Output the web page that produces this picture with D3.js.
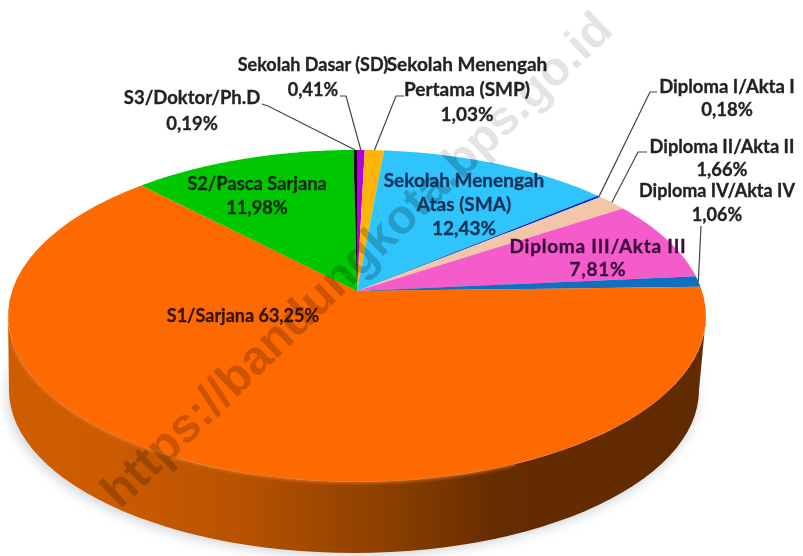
<!DOCTYPE html>
<html><head><meta charset="utf-8">
<script src="https://cdn.jsdelivr.net/npm/d3@7/dist/d3.min.js"></script>
<style>
html,body{margin:0;padding:0;background:#fff}
svg{display:block}
text{font-family:Lato,"Open Sans",sans-serif;font-weight:700}
</style></head><body>
<svg id="c" width="803" height="556"></svg>
<script>
const categories=["Sekolah Dasar (SD)","Sekolah Menengah Pertama (SMP)","Sekolah Menengah Atas (SMA)","Diploma I/Akta I","Diploma II/Akta II","Diploma III/Akta III","Diploma IV/Akta IV","S1/Sarjana","S2/Pasca Sarjana","S3/Doktor/Ph.D"];
const values=[0.41,1.03,12.43,0.18,1.66,7.81,1.06,63.25,11.98,0.19];
const sliceColors=["#b400e0","#ffb40a","#2fc4fb","#0a28c8","#f2c6a8","#f55ccb","#0f6fc0","#ff6a00","#00c800","#101010"];
const labelLines=[["Sekolah Dasar (SD)","0,41%"],["Sekolah Menengah","Pertama (SMP)","1,03%"],["Sekolah Menengah","Atas (SMA)","12,43%"],["Diploma I/Akta I","0,18%"],["Diploma II/Akta II","1,66%"],["Diploma III/Akta III","7,81%"],["Diploma IV/Akta IV","1,06%"],["S1/Sarjana 63,25%"],["S2/Pasca Sarjana","11,98%"],["S3/Doktor/Ph.D","0,19%"]];
const labelAnchors=[[313,71],[467,71],[464,187],[727,93],[722,153],[598,253],[717,197],[243,322],[257,190],[192,104]];
const labelLeading=[25,25,24,23,23,23,24,0,24,26];
const labelSizes=[18,19,19,18.5,18.3,19,18,18,18.3,18.5];
const labelSpacing=[0,0,0,0,0,0.75,0,0,0,0];
const leaderStarts=[[[340,96],[346,96]],[[404,96],[396,96]],null,[[657,92],[650,92]],[[647,152],[638,152]],null,[[701,226]],null,null,[[262,104],[268,106]]];
const textColors=["#222","#222","#10305a","#222","#222","#3a0a3a","#222","#331400","#0d2a0d","#222"];

const svg=d3.select("#c"), defs=svg.append("defs");
const cx=357,cy=291,kp=-0.15,rxp=345,ryp=162.2;
const proj=a=>{const u=Math.sin(a),v=-Math.cos(a),w=1+kp*v;return [cx+rxp*u/w,cy+ryp*v/w];};
const pie=d3.pie().sort(null).value(d=>d).startAngle(0).endAngle(2*Math.PI)(values);
const line=d3.line();
const sample=(a0,a1)=>d3.range(0,61).map(i=>proj(a0+(a1-a0)*i/60));

const sf=defs.append("filter").attr("id","sh").attr("x","-10%").attr("y","-10%").attr("width","120%").attr("height","120%");
sf.append("feGaussianBlur").attr("stdDeviation",6);
const bf=defs.append("filter").attr("id","blur");
bf.append("feGaussianBlur").attr("stdDeviation",0.35);
const bev=defs.append("filter").attr("id","bev");
bev.append("feGaussianBlur").attr("stdDeviation",1.6);

const g=defs.append("linearGradient").attr("id","wall").attr("gradientUnits","userSpaceOnUse").attr("x1",8).attr("x2",705).attr("y1",0).attr("y2",0);
[[0,"#cf5d00"],[.15,"#cc5b00"],[.33,"#b85200"],[.55,"#8a3f00"],[.7,"#662c00"],[1,"#622a00"]].forEach(s=>g.append("stop").attr("offset",s[0]).attr("stop-color",s[1]));

const wx=354,wy=390,wrx=345,wry=163;
const wallPts=d3.range(0,61).map(i=>{const a=Math.PI*i/60;return [wx+wrx*Math.cos(a),wy+wry*Math.sin(a)];});
const topEdge=d3.range(0,61).map(i=>{const a=Math.PI*(1-i/60);return [357+349*Math.cos(a),316+166*Math.sin(a)];});
const wallPath=line(wallPts.concat(topEdge))+"Z";
const disc=line(sample(0,2*Math.PI))+"Z";

const clip=defs.append("clipPath").attr("id","onPie");
clip.append("path").attr("d",wallPath);
clip.append("path").attr("d",disc);

svg.append("ellipse").attr("cx",352).attr("cy",396).attr("rx",345).attr("ry",160).attr("fill","#b4bcc4").attr("opacity",.6).attr("filter","url(#sh)");
svg.append("path").attr("d",wallPath).attr("fill","url(#wall)");

svg.append("g").selectAll("path").data(pie).join("path")
  .attr("d",d=>line([[cx,cy]].concat(sample(d.startAngle,d.endAngle)))+"Z")
  .attr("fill",(d,i)=>sliceColors[i]);

svg.append("path").attr("d",line(topEdge.filter((p,i)=>i>2&&i<40))).attr("fill","none").attr("stroke","#e8731a").attr("stroke-width",3).attr("opacity",.8).attr("filter","url(#bev)");

const mark=sel=>sel.attr("transform","translate(120,510) rotate(-44)")
  .style("font-family","'Liberation Sans',Arial,sans-serif").style("font-size","48px").style("font-weight",700)
  .attr("fill","#000").text("https://bandungkota.bps.go.id");
svg.append("text").call(mark).attr("opacity",.1);
svg.append("g").attr("clip-path","url(#onPie)").append("text").call(mark).attr("opacity",.1);

pie.forEach((d,i)=>{
  if(!leaderStarts[i])return;
  const end=proj((d.startAngle+d.endAngle)/2);
  svg.append("path").attr("d",line(leaderStarts[i].concat([end]))).attr("fill","none").attr("stroke","#444").attr("stroke-width",1.2);
});

labelLines.forEach((ls,i)=>{
  const t=svg.append("text").attr("text-anchor","middle").attr("fill",textColors[i])
    .attr("stroke",textColors[i]).attr("stroke-width",0.3)
    .style("font-size",labelSizes[i]+"px").style("letter-spacing",labelSpacing[i]+"px").attr("filter","url(#blur)");
  ls.forEach((s,j)=>t.append("tspan").attr("x",labelAnchors[i][0]).attr("y",labelAnchors[i][1]+j*labelLeading[i]).text(s));
});
</script></body></html>
